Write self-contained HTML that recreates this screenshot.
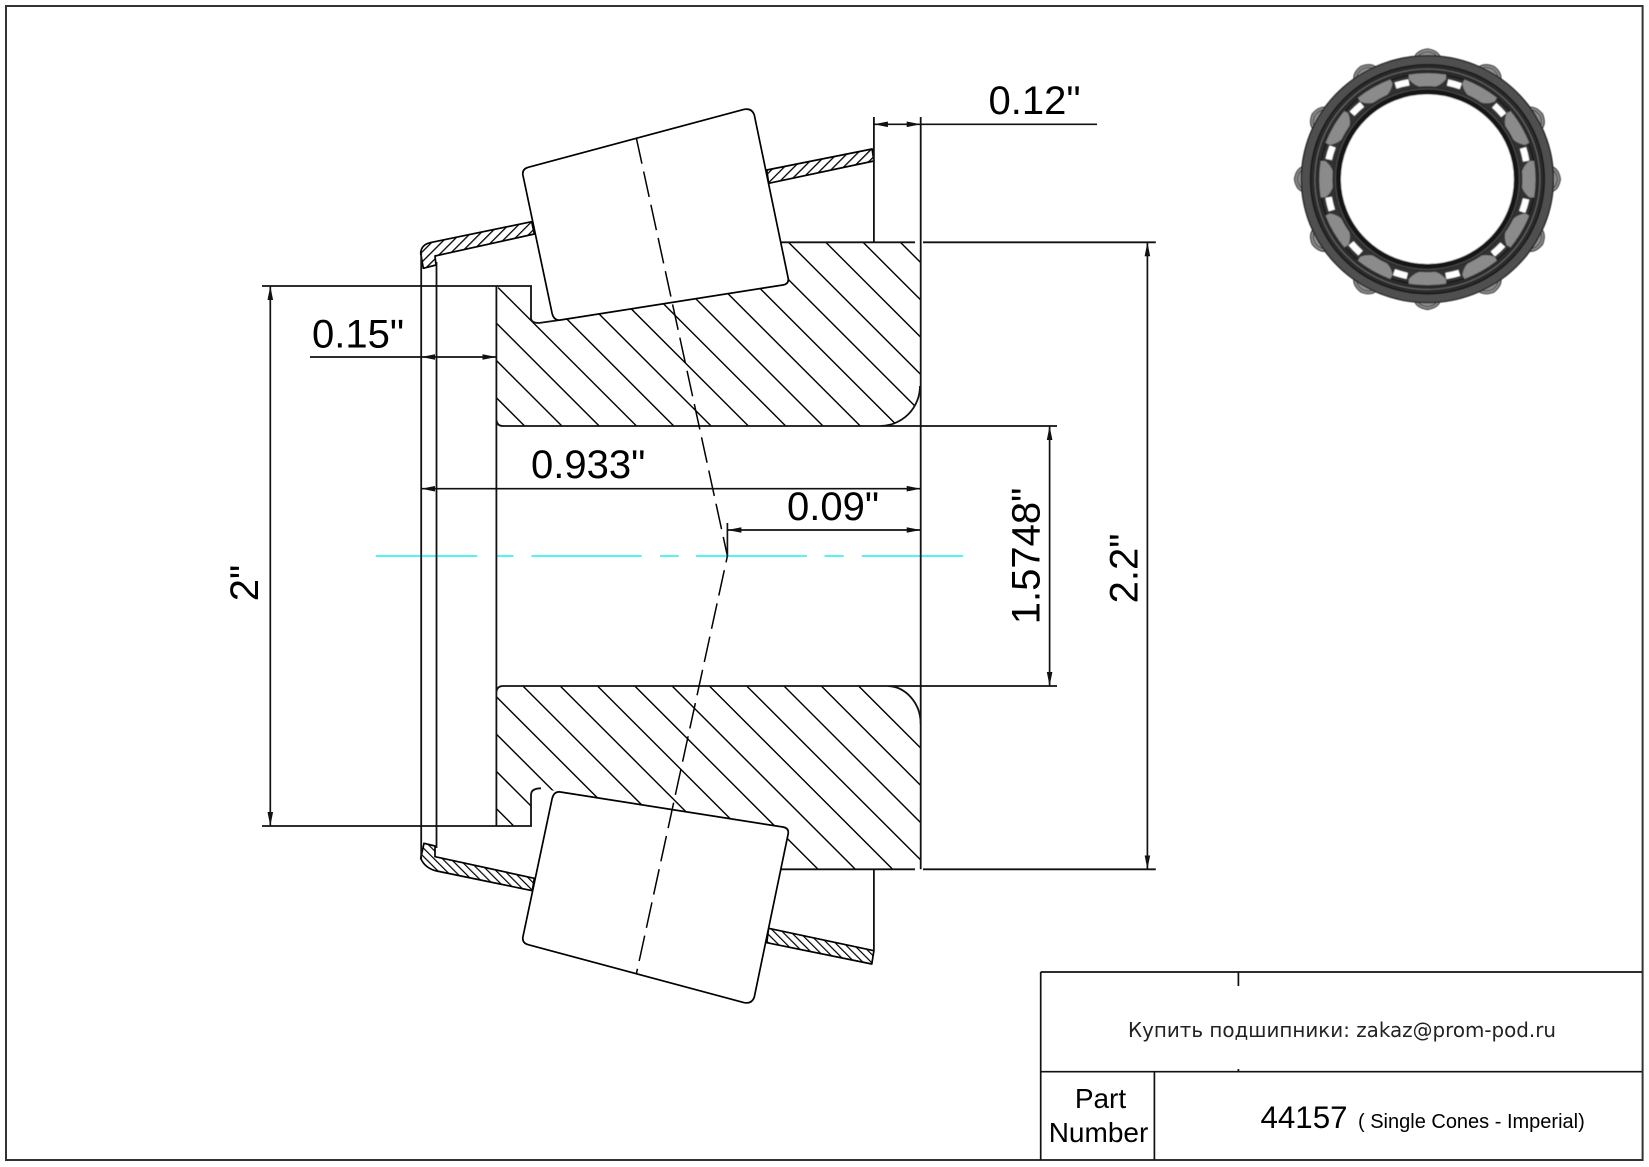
<!DOCTYPE html>
<html>
<head>
<meta charset="utf-8">
<style>
html,body{margin:0;padding:0;background:#fff;width:1649px;height:1167px;overflow:hidden}
svg{display:block;overflow:hidden}
text{font-family:"Liberation Sans",Arial,sans-serif;fill:#000}
</style>
</head>
<body>
<svg width="1649" height="1167" viewBox="0 0 1649 1167" xmlns="http://www.w3.org/2000/svg">
<defs>
<marker id="a" markerUnits="userSpaceOnUse" markerWidth="15" markerHeight="6" refX="14" refY="3" orient="auto-start-reverse"><path d="M0,.2L14,3L0,5.8Z" fill="#111"/></marker>
<pattern id="h1" patternUnits="userSpaceOnUse" width="7" height="7" patternTransform="rotate(45)"><line x1="0" y1="0" x2="0" y2="7" stroke="#000" stroke-width="2.6"/></pattern>
<pattern id="h2" patternUnits="userSpaceOnUse" width="5.9" height="6" patternTransform="rotate(-45)"><line x1="0" y1="0" x2="0" y2="6" stroke="#000" stroke-width="2.4"/></pattern>
<clipPath id="c1"><path d="M503,286L531,286L531,318Q531,323 539,323L560,320L783,285L788,278L781.8,242.3L920.7,242.3L920.7,386A40,40 0 0 1 880,426L503,426Q496.4,426 496.4,420L496.4,292Q496.4,286 503,286Z"/></clipPath>
<clipPath id="c2"><path d="M503,686L887,686A34,38 0 0 1 920.7,724L920.7,869.3L781.8,869.3L788,834L783,827L560.4,792L541,788.3Q531,788.3 531,795L531,826L503,826Q496.4,826 496.4,820L496.4,692Q496.4,686 503,686Z"/></clipPath>
<g id="bump"><path d="M-13,-123Q-12,-131 0,-133Q12,-131 13,-123Z" fill="#8e8e8e" stroke="#333" stroke-width="1.1"/><path d="M-10,-124Q-8,-129 0,-130Q8,-129 10,-124" fill="none" stroke="#444" stroke-width="1"/></g>
<path id="win" d="M20.2,-98.7A100.5,100.5 0 0 1 33.4,-94.8" fill="none" stroke="#fff" stroke-width="6.5"/>
<path id="rol" d="M-19,-107Q0,-110 19,-107L19,-102Q12,-93 0,-93Q-12,-93 -19,-102Z" fill="#8b8b8b" stroke="#333" stroke-width=".8"/>
<filter id="b" x="-5%" y="-5%" width="110%" height="110%"><feGaussianBlur stdDeviation=".5"/></filter>
</defs>

<rect x="6" y="6" width="1636.6" height="1154" fill="none" stroke="#333" stroke-width="2"/>

<!-- centre line -->
<g stroke="#19f0f0" stroke-width="1.6">
<line x1="375.7" y1="556" x2="477.2" y2="556"/>
<line x1="496.3" y1="556" x2="513.5" y2="556"/>
<line x1="531.5" y1="556" x2="641.7" y2="556"/>
<line x1="660" y1="556" x2="678.8" y2="556"/>
<line x1="696" y1="556" x2="807" y2="556"/>
<line x1="824.6" y1="556" x2="843.8" y2="556"/>
<line x1="861.8" y1="556" x2="963.2" y2="556"/>
</g>

<!-- ring hatching -->
<g clip-path="url(#c1)"><path fill="none" stroke="#000" stroke-width="1.4" d="M338.6,240L930,831.4M375.9,240L930,794.1M413.2,240L930,756.8M450.5,240L930,719.5M487.8,240L930,682.2M525.1,240L930,644.9M562.4,240L930,607.6M599.7,240L930,570.3M637,240L930,533M674.3,240L930,495.7M711.6,240L930,458.4M748.9,240L930,421.1M786.2,240L930,383.8M823.5,240L930,346.5M860.8,240L930,309.2M898.1,240L930,271.9"/></g>
<g clip-path="url(#c2)"><path fill="none" stroke="#000" stroke-width="1.4" d="M367.7,680l200,200M405,680l200,200M442.3,680l200,200M479.6,680l200,200M516.9,680l200,200M554.2,680l200,200M591.5,680l200,200M628.8,680l200,200M666.1,680l200,200M703.4,680l200,200M740.7,680l200,200M778,680l200,200M815.3,680l200,200M852.6,680l200,200"/></g>

<!-- cage sections -->
<g stroke="#000" stroke-width="1.7" stroke-linejoin="round">
<path fill="url(#h1)" d="M420.7,253.3Q421,245 430,242.7L531.7,221.7L534.3,234L435,256L436,265L423.3,268.3Z"/>
<path fill="url(#h1)" d="M766.8,170L872.1,149L873.9,161L768.6,183.3Z"/>
<path fill="url(#h2)" d="M424,843.3L435,846L435,856.7L534.3,878.3L532.3,890.7L436.7,871Q425,868.3 420.7,858.3Z"/>
<path fill="url(#h2)" d="M768.6,928.3L873.9,950.7L871.8,964L766.8,942.7Z"/>
</g>

<!-- main outlines -->
<g fill="none" stroke="#111" stroke-width="1.8">
<line x1="421.2" y1="253" x2="421.2" y2="859"/>
<line x1="436.5" y1="262" x2="436.5" y2="848"/>
<path d="M262,286L531,286L531,318Q531,323 539,323L560,320"/>
<path d="M262,826L531,826L531,795Q531,788.3 541,788.3"/>
<path d="M496.4,286V826"/>
<path d="M920.7,117V869.3"/>
<path d="M873.9,117V242.3"/>
<path d="M873.9,869.3V950.7"/>
<path d="M780,242.3H915M923,242.3H1155.8"/>
<path d="M780,869.3H915M923,869.3H1155.8"/>
<path d="M503,426H1057M880,426A40,40 0 0 0 920,386M503,426Q497,426 496.4,420"/>
<path d="M503,686H1057M887,686A34,38 0 0 1 920.7,724M503,686Q497,686 496.4,692"/>
</g>

<!-- rollers -->
<g fill="#fff" stroke="#000" stroke-width="1.7">
<path d="M528.2,167.3L744.3,109.3Q752,108 754.3,115L788.2,278.3Q789,284 782.9,285L560.4,320Q554,321 552.1,313.3L522.9,175Q522,169 528.2,167.3Z"/>
<path d="M528.2,944.7L744.3,1002.7Q752,1004 754.3,997L788.2,833.7Q789,828 782.9,827L560.4,792Q554,791 552.1,798.7L522.9,937Q522,943 528.2,944.7Z"/>
</g>

<!-- roller axis lines -->
<path d="M636.4,138.3L727.4,556L636.4,973.7" fill="none" stroke="#000" stroke-width="1.5" stroke-dasharray="26 8"/>

<!-- dimensions -->
<g fill="none" stroke="#111" stroke-width="1.7">
<line x1="873.9" y1="124.3" x2="920.7" y2="124.3" marker-start="url(#a)" marker-end="url(#a)"/>
<line x1="920.7" y1="124.3" x2="1097" y2="124.3"/>
<line x1="310" y1="357" x2="421.2" y2="357"/>
<line x1="421.2" y1="357" x2="496.4" y2="357" marker-start="url(#a)" marker-end="url(#a)"/>
<line x1="421.2" y1="488.7" x2="920.7" y2="488.7" marker-start="url(#a)" marker-end="url(#a)"/>
<line x1="727.4" y1="530" x2="920.7" y2="530" marker-start="url(#a)" marker-end="url(#a)"/>
<line x1="727.4" y1="523" x2="727.4" y2="556"/>
<line x1="1049.6" y1="426" x2="1049.6" y2="686" marker-start="url(#a)" marker-end="url(#a)"/>
<line x1="1147.4" y1="242.3" x2="1147.4" y2="869.3" marker-start="url(#a)" marker-end="url(#a)"/>
<line x1="270.3" y1="286" x2="270.3" y2="826" marker-start="url(#a)" marker-end="url(#a)"/>
</g>

<g font-size="40">
<text x="988.5" y="114">0.12"</text>
<text x="312" y="347.5">0.15"</text>
<text x="531" y="478">0.933"</text>
<text x="787" y="520">0.09"</text>
<text transform="translate(1039.3,556) rotate(-90)" text-anchor="middle">1.5748"</text>
<text transform="translate(1137.5,568.5) rotate(-90)" text-anchor="middle">2.2"</text>
<text transform="translate(258,583) rotate(-90)" text-anchor="middle">2"</text>
</g>

<!-- thumbnail -->
<g transform="translate(1427.4,179.2) scale(1,.98)" filter="url(#b)">
<use href="#bump"/><use href="#bump" transform="rotate(30)"/><use href="#bump" transform="rotate(60)"/><use href="#bump" transform="rotate(90)"/><use href="#bump" transform="rotate(120)"/><use href="#bump" transform="rotate(150)"/><use href="#bump" transform="rotate(180)"/><use href="#bump" transform="rotate(210)"/><use href="#bump" transform="rotate(240)"/><use href="#bump" transform="rotate(270)"/><use href="#bump" transform="rotate(300)"/><use href="#bump" transform="rotate(330)"/>
<circle r="126" fill="#505050" stroke="#111" stroke-width="1.2"/>
<circle r="117" fill="#2b2b2b" stroke="#0c0c0c" stroke-width="1.2"/>
<circle r="112.5" fill="none" stroke="#6a6a6a" stroke-width="1"/>
<circle r="107.5" fill="#333" stroke="#0c0c0c" stroke-width="1"/>
<use href="#win"/><use href="#win" transform="rotate(30)"/><use href="#win" transform="rotate(60)"/><use href="#win" transform="rotate(90)"/><use href="#win" transform="rotate(120)"/><use href="#win" transform="rotate(150)"/><use href="#win" transform="rotate(180)"/><use href="#win" transform="rotate(210)"/><use href="#win" transform="rotate(240)"/><use href="#win" transform="rotate(270)"/><use href="#win" transform="rotate(300)"/><use href="#win" transform="rotate(330)"/>
<use href="#rol"/><use href="#rol" transform="rotate(30)"/><use href="#rol" transform="rotate(60)"/><use href="#rol" transform="rotate(90)"/><use href="#rol" transform="rotate(120)"/><use href="#rol" transform="rotate(150)"/><use href="#rol" transform="rotate(180)"/><use href="#rol" transform="rotate(210)"/><use href="#rol" transform="rotate(240)"/><use href="#rol" transform="rotate(270)"/><use href="#rol" transform="rotate(300)"/><use href="#rol" transform="rotate(330)"/>
<circle r="95" fill="#2e2e2e"/>
<circle r="92" fill="#171717" stroke="#555" stroke-width=".8"/>
<circle r="87" fill="#fff" stroke="#000" stroke-width="1"/>
</g>

<!-- title block -->
<g fill="none" stroke="#111" stroke-width="1.7">
<path d="M1040.7,972H1642M1040.7,972V1160M1040.7,1071.7H1642M1154.4,1071.7V1160M1238.4,972V986M1238.4,1069V1071.7"/>
</g>
<text x="1128" y="1037" font-size="20" textLength="428" lengthAdjust="spacingAndGlyphs" style="font-family:'DejaVu Sans','Liberation Sans',sans-serif;fill:#222">Купить подшипники: zakaz@prom-pod.ru</text>
<text x="1100.5" y="1108" font-size="28" text-anchor="middle">Part</text>
<text x="1098.5" y="1142" font-size="28" text-anchor="middle">Number</text>
<text x="1260.5" y="1128" font-size="31.3">44157</text>
<text x="1358" y="1128" font-size="20">( Single Cones - Imperial)</text>
</svg>
</body>
</html>
